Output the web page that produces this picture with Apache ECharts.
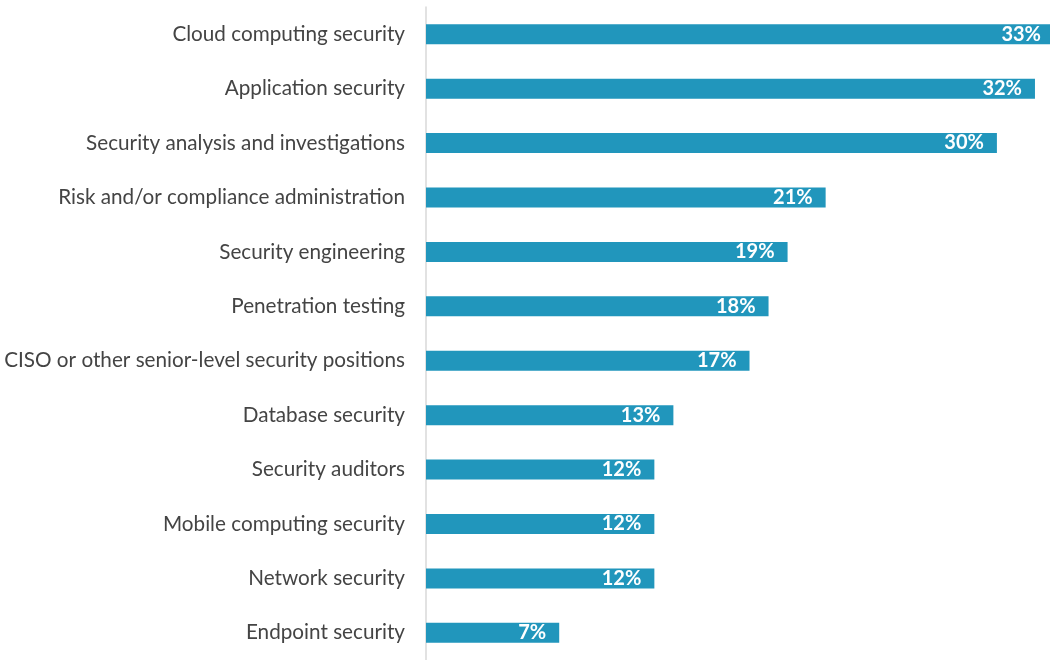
<!DOCTYPE html>
<html><head><meta charset="utf-8">
<script src="https://cdn.jsdelivr.net/npm/echarts@6/dist/echarts.min.js"></script>
<style>html,body{margin:0;padding:0;background:#fff}#c{width:1050px;height:660px}</style>
</head><body><div id="c"></div>
<script>
const categories = [
  "Cloud computing security",
  "Application security",
  "Security analysis and investigations",
  "Risk and/or compliance administration",
  "Security engineering",
  "Penetration testing",
  "CISO or other senior-level security positions",
  "Database security",
  "Security auditors",
  "Mobile computing security",
  "Network security",
  "Endpoint security"
];
const values = [33, 32, 30, 21, 19, 18, 17, 13, 12, 12, 12, 7];

const chart = echarts.init(document.getElementById('c'), null, {renderer: 'canvas'});
chart.setOption({
  animation: false,
  grid: {left: 426, right: -4, top: 7, bottom: 0, containLabel: false, outerBoundsMode: 'none'},
  xAxis: {type: 'value', min: 0, max: 33, show: false},
  yAxis: {
    type: 'category', data: categories, inverse: true,
    axisLine: {show: true, lineStyle: {color: '#d9d9d9', width: 1.5}},
    axisTick: {show: false},
    axisLabel: {color: '#444', fontSize: 20.7, fontFamily: 'Lato', margin: 21, padding: [3, 0, 0, 0]}
  },
  series: [{
    type: 'bar', data: values, barWidth: 20,
    itemStyle: {color: '#2196bc'},
    label: {show: true, position: 'insideRight', distance: 13, formatter: '{c}%',
      color: '#fff', fontWeight: 'bold', fontSize: 20, fontFamily: 'Lato', padding: [3, 0, 0, 0]}
  }]
});
</script></body></html>
